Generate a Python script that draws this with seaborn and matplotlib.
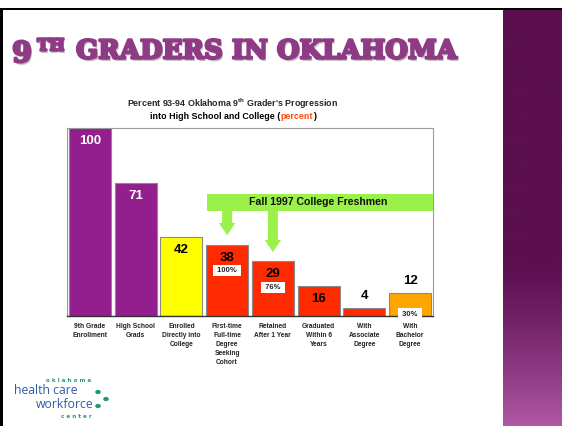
import numpy as np
import pandas as pd
import matplotlib
matplotlib.use("Agg")
import matplotlib.pyplot as plt
import seaborn as sns
from matplotlib.patches import Rectangle, FancyArrow, Circle
import matplotlib.patheffects as pe

# ---------------- data ----------------
categories = ["9th Grade\nEnrollment", "High School\nGrads", "Enrolled\nDirectly into\nCollege",
              "First-time\nFull-time\nDegree\nSeeking\nCohort", "Retained\nAfter 1 Year",
              "Graduated\nWithin 6\nYears", "With\nAssociate\nDegree", "With\nBachelor\nDegree"]
values = [100, 71, 42, 38, 29, 16, 4, 12]
cohort_pct = ["", "", "", "100%", "76%", "", "", "30%"]
bar_colors = ["#931E8E", "#931E8E", "#FFFF00", "#FF2A00", "#FF2A00", "#FF2A00", "#FF2A00", "#FFA500"]
label_colors = ["white", "white", "black", "black", "black", "black", "black", "black"]
label_inside = [True, True, True, True, True, True, False, False]
banner_text = "Fall 1997 College Freshmen"
arrow_targets = [3, 4]

df = pd.DataFrame({"category": categories, "value": values})

W, H = 562, 426
def fx(x): return x / W
def fy(y): return 1 - y / H

sns.set_style("white")
plt.rcParams["font.family"] = ["Liberation Sans", "DejaVu Sans"]
plt.rcParams["mathtext.fontset"] = "custom"
plt.rcParams["mathtext.bf"] = "Liberation Sans:bold"
plt.rcParams["mathtext.rm"] = "Liberation Sans"

fig = plt.figure(figsize=(W / 100, H / 100), dpi=100)
fig.patch.set_facecolor("white")

# ---------------- slide decoration ----------------
fig.add_artist(Rectangle((0, fy(9.5)), 1, 2 / H, transform=fig.transFigure, fc="black", ec="none"))
fig.add_artist(Rectangle((0, 0), 2.5 / W, fy(8), transform=fig.transFigure, fc="black", ec="none"))

# right purple gradient panel
axp = fig.add_axes([fx(503), 0, 59 / W, fy(9.5)])
n = 400
t = np.linspace(0, 1, n)
top = np.array([0x5B, 0x0F, 0x4F]) / 255
bot = np.array([0xB0, 0x58, 0xA6]) / 255
w = np.clip((t - 0.6) / 0.4, 0, 1) ** 1.3
grad = top[None, :] * (1 - w[:, None]) + bot[None, :] * w[:, None]
axp.imshow(grad[:, None, :], aspect="auto", extent=(0, 1, 0, 1))
axp.set_axis_off()

# ---------------- slide title ----------------
purple = "#8E3A85"
heavy = [pe.SimplePatchShadow(offset=(1.2, -1.8), shadow_rgbFace="#888888", alpha=0.5),
         pe.Stroke(linewidth=1.8, foreground=purple), pe.Normal()]
renderer = fig.canvas.get_renderer()
tmain = fig.text(fx(76), fy(58.5), "GRADERS IN OKLAHOMA", ha="left", va="baseline",
                 fontsize=24, family="DejaVu Serif", weight="bold", color=purple, path_effects=heavy)
wmain = tmain.get_window_extent(renderer).width
F = 24 * 382 / wmain
tmain.set_fontsize(F)
fig.text(fx(64), fy(37), "TH", ha="right", va="top", fontsize=F * 0.62, family="DejaVu Serif",
         weight="bold", color=purple, path_effects=heavy)
fig.text(fx(32), fy(62), "9", ha="right", va="baseline", fontsize=F * 1.1, family="DejaVu Serif",
         weight="bold", color=purple, path_effects=heavy)

# ---------------- chart title ----------------
fig.text(fx(233), fy(104), r"Percent 93-94 Oklahoma 9$^{\mathbf{th}}$ Grader's Progression",
         ha="center", va="center", fontsize=6.4, weight="bold")
pieces = [("into High School and College (", "black"), ("percent", "#FF4A10"), (")", "black")]
arts = [fig.text(0, fy(119), s, ha="left", va="baseline", fontsize=6.4, weight="bold", color=c)
        for s, c in pieces]
widths = [a.get_window_extent(renderer).width for a in arts]
x0 = 233 - sum(widths) / 2
for a, wdt in zip(arts, widths):
    a.set_x(fx(x0))
    x0 += wdt

# ---------------- chart ----------------
ax = fig.add_axes([fx(67), fy(316), 366 / W, 188 / H])
sns.barplot(data=df, x="category", y="value", hue="category", palette=bar_colors, legend=False,
            width=0.92, edgecolor="#8a8a8a", linewidth=0.8, saturation=1, ax=ax, zorder=2)
ax.set_ylim(0, 100)
ax.set_xlim(-0.5, 7.5)
ax.set_yticks([])
ax.set_xlabel("")
ax.set_ylabel("")
ax.set_xticks(range(len(categories)))
ax.set_xticklabels(categories, fontsize=4.8, fontweight="bold", linespacing=1.4, va="top", color="#222222")
ax.tick_params(axis="x", which="major", length=0, pad=5)
ax.set_xticks(np.arange(-0.5, len(categories), 1), minor=True)
ax.tick_params(axis="x", which="minor", length=3, color="#444444", direction="out", width=0.8)
for s in ["top", "right", "left"]:
    ax.spines[s].set_color("#9a9a9a")
    ax.spines[s].set_linewidth(0.8)
ax.spines["bottom"].set_color("#333333")
ax.spines["bottom"].set_linewidth(1.0)

for i, v in enumerate(values):
    off = -13 if label_inside[i] else 12
    ax.annotate(str(v), xy=(i, v), xytext=(0, off), textcoords="offset pixels", ha="center",
                va="center", fontsize=9.5, fontweight="bold", color=label_colors[i], zorder=5)

for i, p in enumerate(cohort_pct):
    if not p:
        continue
    if i == 7:
        xy, off = (i, 0), 2
    else:
        xy, off = (i, values[i]), -26
    ax.annotate(" " + p + " ", xy=xy, xytext=(0, off), textcoords="offset pixels", ha="center",
                va="center", fontsize=5.5, fontweight="bold", color="#222222", zorder=6,
                annotation_clip=False, bbox=dict(boxstyle="square,pad=0.3", fc="white", ec="none"))

# banner and arrows
green = "#9CF04A"
bx0, bx1, by0, by1 = 2.56, 7.5, 55.9, 65.0
ax.add_patch(Rectangle((bx0, by0), bx1 - bx0, by1 - by0, fc=green, ec="none", zorder=4, clip_on=False))
ax.text((bx0 + bx1) / 2 - 0.05, (by0 + by1) / 2, banner_text, ha="center", va="center",
        fontsize=7.6, fontweight="bold", color="#111111", zorder=5)
for i in arrow_targets:
    tip = values[i] + 5
    ax.add_patch(FancyArrow(i, by0 + 0.5, 0, -(by0 + 0.5 - tip), width=0.22, head_width=0.36,
                            head_length=6.5, length_includes_head=True, fc=green, ec="none", zorder=4))

# ---------------- logo ----------------
teal = "#2A9C86"
blue = "#2B5DA8"
fig.text(fx(69), fy(381), "o k l a h o m a", ha="center", va="center", fontsize=4.1, color=teal,
         family="DejaVu Sans", weight="bold")
fig.text(fx(14), fy(391), "health care", ha="left", va="center", fontsize=8.8, color=blue, family="Open Sans")
fig.text(fx(93), fy(405), "workforce", ha="right", va="center", fontsize=8.8, color=blue, family="Open Sans")
fig.text(fx(76), fy(417), "c e n t e r", ha="center", va="center", fontsize=4.1, color=teal,
         family="DejaVu Sans", weight="bold")
for (cx, cy) in [(98, 392), (106, 399), (98, 406)]:
    fig.add_artist(Circle((fx(cx), fy(cy)), 2.8 / W, transform=fig.transFigure, fc="#1B9A6A", ec="none"))

fig.savefig("out.png", dpi=100)
